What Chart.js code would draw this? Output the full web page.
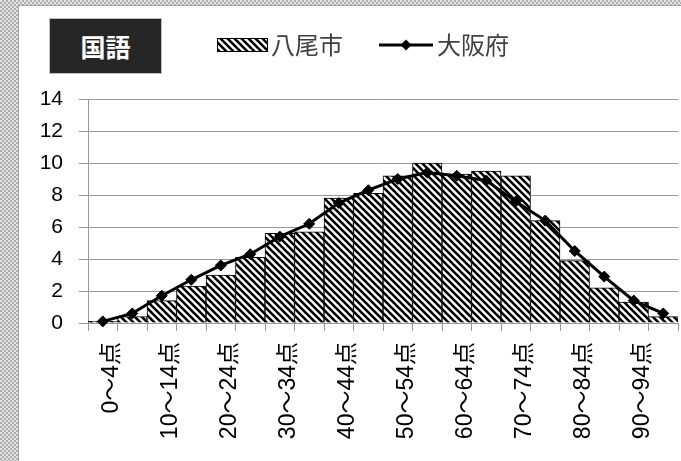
<!DOCTYPE html>
<html><head><meta charset="utf-8">
<script src="https://cdn.jsdelivr.net/npm/chart.js@4/dist/chart.umd.min.js"></script>
<style>
html,body{margin:0;padding:0;width:681px;height:461px;overflow:hidden;}
body{background:repeating-conic-gradient(#b0b0b0 0 25%, #e2e2e2 0 50%) 0 0/4px 4px;position:relative;}
#panel{position:absolute;left:18px;top:5px;right:0;bottom:0;background:#fff;border-left:1px solid #a0a0a0;border-top:1px solid #a0a0a0;}
#title{position:absolute;left:49px;top:18px;width:113px;height:56px;background:#262626;border:1px solid #bdbdbd;color:#fff;font:bold 25px "Noto Sans CJK JP";display:flex;align-items:center;justify-content:center;box-sizing:border-box;}
#c{position:absolute;left:0;top:0;}
</style></head><body>
<div id="panel"></div>
<div id="title">国語</div>
<canvas id="c" width="681" height="461"></canvas>
<script>
const categories = ["0～4点","5～9点","10～14点","15～19点","20～24点","25～29点","30～34点","35～39点","40～44点","45～49点","50～54点","55～59点","60～64点","65～69点","70～74点","75～79点","80～84点","85～89点","90～94点","95～100点"];
const yaoValues = [0.1,0.4,1.4,2.3,3.0,4.1,5.6,5.7,7.8,8.1,9.2,10.0,9.3,9.5,9.2,6.4,3.9,2.2,1.3,0.4];
const osakaValues = [0.1,0.6,1.7,2.7,3.6,4.3,5.4,6.2,7.5,8.3,9.0,9.4,9.2,8.9,7.6,6.4,4.5,2.9,1.4,0.6];
const seriesNames = ["八尾市","大阪府"];
const yTicks = {min:0,max:14,step:2};

function makeHatch(){
  const n=7;
  const p=document.createElement('canvas');p.width=n;p.height=n;
  const g=p.getContext('2d');
  g.fillStyle='#fff';g.fillRect(0,0,n,n);
  g.strokeStyle='#000';g.lineWidth=2.6;g.lineCap='square';
  g.beginPath();
  g.moveTo(-1,-1);g.lineTo(n+1,n+1);
  g.moveTo(-1,n-1);g.lineTo(1,n+1);
  g.moveTo(n-1,-1);g.lineTo(n+1,1);
  g.stroke();
  return document.getElementById('c').getContext('2d').createPattern(p,'repeat');
}
const hatch=makeHatch();
const FONT='"Liberation Sans","Noto Sans CJK JP"';

const legendPlugin={
  id:'customLegend',
  afterDraw(chart){
    const ctx=chart.ctx;ctx.save();
    const ds0=chart.data.datasets[0], ds1=chart.data.datasets[1];
    ctx.fillStyle=ds0.backgroundColor;ctx.fillRect(217,38,51,14);
    ctx.strokeStyle='#000';ctx.lineWidth=1;ctx.strokeRect(217.5,38.5,50,13);
    ctx.fillStyle='#404040';ctx.font='24px "Noto Sans CJK JP"';ctx.textBaseline='middle';ctx.textAlign='left';
    ctx.fillText(ds0.label,271,45);
    ctx.strokeStyle='#000';ctx.lineWidth=3;ctx.beginPath();ctx.moveTo(379,45);ctx.lineTo(433,45);ctx.stroke();
    ctx.fillStyle='#000';ctx.beginPath();ctx.moveTo(406,39.5);ctx.lineTo(411.5,45);ctx.lineTo(406,50.5);ctx.lineTo(400.5,45);ctx.closePath();ctx.fill();
    ctx.fillStyle='#404040';ctx.fillText(ds1.label,437,45);
    ctx.restore();
  }
};

new Chart(document.getElementById('c'),{
  data:{
    labels:categories,
    datasets:[
      {type:'bar',label:seriesNames[0],data:yaoValues,backgroundColor:hatch,borderColor:'#000',borderWidth:1,categoryPercentage:1,barPercentage:1,order:2},
      {type:'line',label:seriesNames[1],data:osakaValues,borderColor:'#000',borderWidth:3,pointStyle:'rectRot',pointRadius:5.5,pointBackgroundColor:'#000',pointBorderColor:'#000',pointBorderWidth:1,tension:0,order:1,clip:false}
    ]
  },
  options:{
    responsive:false,animation:false,
    layout:{autoPadding:false,padding:{left:19,top:99,right:3,bottom:0}},
    plugins:{legend:{display:false},tooltip:{enabled:false}},
    scales:{
      x:{
        offset:true,
        grid:{offset:true,drawOnChartArea:false,tickLength:8,color:'#999',tickColor:'#999'},
        border:{color:'#999'},
        ticks:{autoSkip:false,maxRotation:90,minRotation:90,padding:11,labelOffset:9,color:'#000',font:{family:FONT,size:23},
          callback:function(v,i){return i%2===0?categories[i]:'';}},
        afterFit(s){s.height=138;s.paddingLeft=0;s.paddingRight=0;}
      },
      y:{
        min:yTicks.min,max:yTicks.max,
        grid:{color:'#999',tickLength:9,tickColor:'#999'},
        border:{color:'#999'},
        ticks:{stepSize:yTicks.step,padding:16,color:'#000',font:{family:FONT,size:21}},
        afterFit(s){s.width=69;s.paddingTop=0;s.paddingBottom=0;}
      }
    }
  },
  plugins:[legendPlugin]
});
</script>
</body></html>
